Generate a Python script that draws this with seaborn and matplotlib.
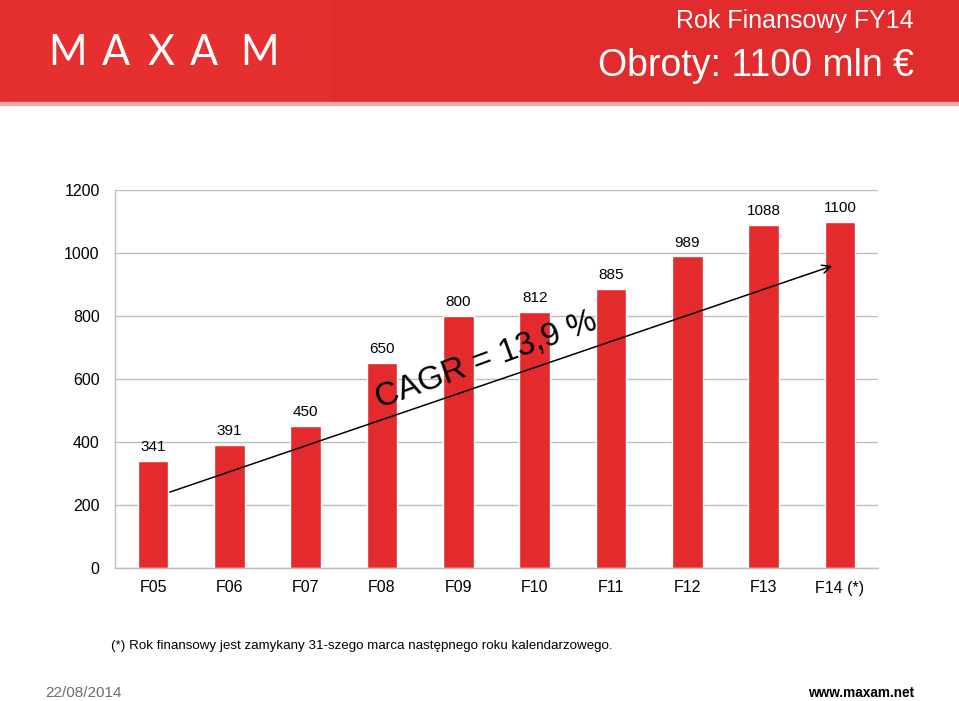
import matplotlib
matplotlib.use('Agg')
import matplotlib.pyplot as plt
import seaborn as sns
import numpy as np
from matplotlib.patches import Rectangle

# data
periods = ['F05', 'F06', 'F07', 'F08', 'F09', 'F10', 'F11', 'F12', 'F13', 'F14 (*)']
revenue = [341, 391, 450, 650, 800, 812, 885, 989, 1088, 1100]
y_ticks = [0, 200, 400, 600, 800, 1000, 1200]

# trend arrow (data coords) and label
arrow_start = (0.22, 241)
arrow_end = (8.9, 959)
cagr_label = 'CAGR = 13,9 %'
cagr_pos = (4.37, 660)

title_small = 'Rok Finansowy FY14'
title_big = 'Obroty: 1100 mln €'
footnote = '(*) Rok finansowy jest zamykany 31-szego marca następnego roku kalendarzowego.'
date_text = '22/08/2014'
site_text = 'www.maxam.net'
logo_letters = ['M', 'A', 'X', 'A', 'M']
logo_x = [68, 116, 161, 204, 259]   # pixel centres of the logo letters

RED = '#E32A2D'
GRID = '#BDBDBD'

sns.set_style('white')
plt.rcParams['font.family'] = ['Liberation Sans', 'DejaVu Sans']
plt.rcParams['text.color'] = 'black'
plt.rcParams['xtick.color'] = 'black'
plt.rcParams['ytick.color'] = 'black'

W, H = 959, 701
fig = plt.figure(figsize=(W / 100, H / 100), dpi=100)

# --- header band ---
fig.patches.append(Rectangle((0, 1 - 102 / H), 1, 102 / H, transform=fig.transFigure,
                             color='#E22B2D', zorder=0))
fig.patches.append(Rectangle((0, 1 - 102 / H), 330 / W, 102 / H, transform=fig.transFigure,
                             color='#E5302F', zorder=0))
fig.patches.append(Rectangle((0, 1 - 105 / H), 1, 3 / H, transform=fig.transFigure,
                             color='#F1A9A6', zorder=0))

for letter, lx in zip(logo_letters, logo_x):
    fig.text(lx / W, 1 - 53 / H, letter, color='white', fontsize=30,
             ha='center', va='center', family=['Lato', 'DejaVu Sans'])
fig.text(914 / W, 1 - 21 / H, title_small, color='white', fontsize=18,
         ha='right', va='center')
fig.text(914 / W, 1 - 66 / H, title_big, color='white', fontsize=27,
         ha='right', va='center')

# --- chart ---
ax = fig.add_axes([115 / W, 1 - 568 / H, (878 - 115) / W, (568 - 190) / H])
sns.barplot(x=periods, y=revenue, color=RED, saturation=1, width=0.4, ax=ax)

ax.set_ylim(0, 1200)
ax.set_xlim(-0.5, len(periods) - 0.5)
ax.set_yticks(y_ticks)
ax.yaxis.grid(True, color=GRID, linewidth=1)
ax.set_axisbelow(True)
for side in ['top', 'right']:
    ax.spines[side].set_visible(False)
for side in ['left', 'bottom']:
    ax.spines[side].set_color(GRID)
    ax.spines[side].set_linewidth(1)

ax.set_xticks(np.arange(-0.5, len(periods), 1), minor=True)
ax.tick_params(axis='x', which='minor', length=5, color=GRID, width=1)
ax.tick_params(axis='x', which='major', length=0, labelsize=11.5, pad=9)
ax.tick_params(axis='y', length=5, color=GRID, width=1, labelsize=11.5, pad=6)
ax.set_xlabel('')
ax.set_ylabel('')

ax.bar_label(ax.containers[0], padding=5, fontsize=11, color='black')

ax.annotate('', xy=arrow_end, xytext=arrow_start,
            arrowprops=dict(arrowstyle='->', color='black', lw=1.1,
                            mutation_scale=15, shrinkA=0, shrinkB=0))
ax.text(cagr_pos[0], cagr_pos[1], cagr_label, fontsize=23.5, rotation=20,
        rotation_mode='anchor', ha='center', va='center', color='black')

# --- footer ---
fig.text(111 / W, 1 - 646 / H, footnote, fontsize=9.6, ha='left', va='center')
fig.text(45 / W, 1 - 693 / H, date_text, fontsize=11, color='#6E6E6E',
         ha='left', va='center')
fig.text(914 / W, 1 - 693 / H, site_text, fontsize=9.8, fontweight='bold',
         ha='right', va='center')

fig.savefig('out.png', dpi=100)
